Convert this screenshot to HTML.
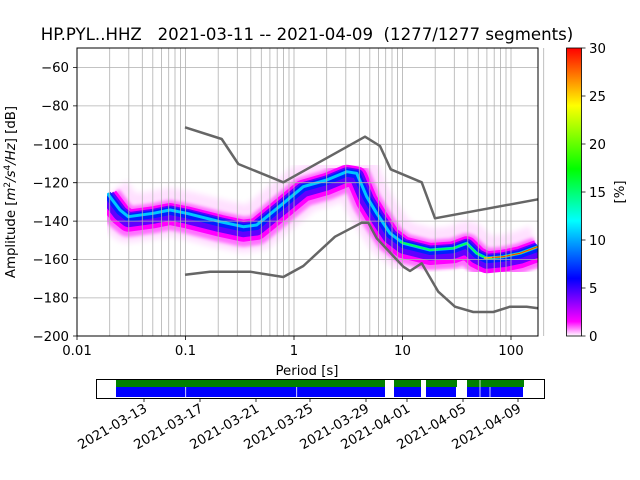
<!DOCTYPE html>
<html><head><meta charset="utf-8"><style>
html,body{margin:0;padding:0;background:#fff;}
svg{display:block;font-family:"DejaVu Sans","Liberation Sans",sans-serif;}
</style></head><body>
<svg width="640" height="480" viewBox="0 0 640 480" xmlns="http://www.w3.org/2000/svg">
<defs>
<linearGradient id="cb" x1="0" y1="1" x2="0" y2="0">
<stop offset="0" stop-color="#ffffff"/>
<stop offset="0.05" stop-color="#ff00ff"/>
<stop offset="0.2" stop-color="#0000ff"/>
<stop offset="0.4" stop-color="#00ffff"/>
<stop offset="0.58" stop-color="#00ff00"/>
<stop offset="0.8" stop-color="#ffff00"/>
<stop offset="1" stop-color="#ff0000"/>
</linearGradient>
<clipPath id="pc"><rect x="107" y="48" width="431" height="288"/></clipPath>
<filter id="bl"><feGaussianBlur stdDeviation="1.5"/></filter>
<filter id="bl2"><feGaussianBlur stdDeviation="3"/></filter>
<polyline id="m" fill="none" points="107.3,193.3 120,210 128.3,216.7 153.3,213.3 170,210 186.7,213.3 220,221.7 243.3,226.7 256.7,225 283.3,203.3 303.3,186.7 326.7,180 346.7,171.7 356.7,173.3 366.7,196.7 376.7,213.3 390,233.3 403.3,243.3 430,250 453.3,248.3 466.7,243.3 476.7,253.3 486.7,258.3 503.3,256.7 520,253.3 538,246.7"/>
</defs>
<text x="307" y="40" font-size="16.6" text-anchor="middle" style="white-space:pre" xml:space="preserve">HP.PYL..HHZ   2021-03-11 -- 2021-04-09  (1277/1277 segments)</text>
<g clip-path="url(#pc)" fill="none" stroke-linejoin="round">
<use href="#m" transform="translate(0,2)" stroke="#ffe0ff" stroke-width="48" filter="url(#bl2)"/>
<use href="#m" transform="translate(0,5)" stroke="#ff70ff" stroke-width="30" filter="url(#bl)"/>
<use href="#m" transform="translate(0,4)" stroke="#ff00ff" stroke-width="22"/>
<use href="#m" transform="translate(0,3)" stroke="#6000ff" stroke-width="15"/>
<use href="#m" transform="translate(0,1)" stroke="#0020ff" stroke-width="8"/>
<use href="#m" stroke="#00c8ff" stroke-width="3"/>
<polyline points="400,242 430,250 453.3,248.3 466.7,243.3 476.7,253.3 486.7,258.3 503.3,256.7 520,253.3 538,246.7" stroke="#00ff60" stroke-width="2"/>
<polyline points="484,258 503.3,256.7 520,253.3 538,246.7" stroke="#ffb000" stroke-width="1.5"/>
<polyline points="492,257.5 503.3,256.7 520,253.3 538,246.5" stroke="#ff2000" stroke-width="0.8"/>
</g>
<g stroke="#b0b0b0" stroke-width="0.8">
<path d="M77,67.5H538M77,105.9H538M77,144.3H538M77,182.7H538M77,221.1H538M77,259.5H538M77,297.9H538"/>
<path id="dec" d="M77,48V336M109.7,48V336M128.8,48V336M142.3,48V336M152.8,48V336M161.4,48V336M168.7,48V336M175,48V336M180.5,48V336"/>
<use href="#dec" transform="translate(108.5,0)"/>
<use href="#dec" transform="translate(217,0)"/>
<use href="#dec" transform="translate(325.5,0)"/>
<path d="M511,48V336M543.7,48V336"/>
</g>
<g fill="none" stroke="#666" stroke-width="2.5" stroke-linejoin="round">
<polyline points="185,127.3 221.7,139 238.3,164 283.3,182.3 365,136.7 380,146 390.7,169.3 421.7,182.3 435,218.3 538,199.3"/>
<polyline points="185,274.7 210,271.7 250,271.7 283.3,277 303.3,266 335,236.7 361.7,222.7 368.3,222.7 376.7,238.3 403.3,266.7 410,271 421.7,263.3 438.3,291.7 455,306.7 473.3,312 493.3,312 510,306.7 526.7,306.7 538,308.3"/>
</g>
<rect x="77" y="48" width="461" height="288" fill="none" stroke="#000" stroke-width="1"/>
<g stroke="#000" stroke-width="0.8">
<path d="M73,67.5H77M73,105.9H77M73,144.3H77M73,182.7H77M73,221.1H77M73,259.5H77M73,297.9H77M73,336H77"/>
<path d="M77,336V340M185.5,336V340M294,336V340M402.5,336V340M511,336V340"/>
</g>
<g font-size="13.3" text-anchor="end" fill="#000">
<text x="69" y="72">−60</text><text x="69" y="110.5">−80</text><text x="69" y="149">−100</text><text x="69" y="187.5">−120</text><text x="69" y="226">−140</text><text x="69" y="264">−160</text><text x="69" y="302.5">−180</text><text x="69" y="341">−200</text>
</g>
<g font-size="13.3" text-anchor="middle">
<text x="77" y="355">0.01</text><text x="185.5" y="355">0.1</text><text x="294" y="355">1</text><text x="402.5" y="355">10</text><text x="511" y="355">100</text>
<text x="307" y="375">Period [s]</text>
</g>
<text transform="translate(15,192) rotate(-90)" font-size="13.3" text-anchor="middle">Amplitude [<tspan font-style="italic">m</tspan><tspan font-size="9" dy="-5">2</tspan><tspan dy="5" font-style="italic">/s</tspan><tspan font-size="9" dy="-5">4</tspan><tspan dy="5" font-style="italic">/Hz</tspan>] [dB]</text>
<rect x="566.5" y="48" width="15" height="288" fill="url(#cb)" stroke="#000" stroke-width="0.8"/>
<g stroke="#000" stroke-width="0.8"><path d="M581.5,48h4M581.5,96h4M581.5,144h4M581.5,192h4M581.5,240h4M581.5,288h4M581.5,336h4"/></g>
<g font-size="13.3"><text x="589" y="53">30</text><text x="589" y="101">25</text><text x="589" y="149">20</text><text x="589" y="197">15</text><text x="589" y="245">10</text><text x="589" y="293">5</text><text x="589" y="341">0</text></g>
<text transform="translate(624,192) rotate(-90)" font-size="13.3" text-anchor="middle">[%]</text>
<g>
<rect x="116" y="380" width="269" height="7" fill="#008000"/>
<rect x="394" y="380" width="27" height="7" fill="#008000"/>
<rect x="426" y="380" width="31" height="7" fill="#008000"/>
<rect x="467" y="380" width="57" height="7" fill="#008000"/>
<rect x="116" y="387" width="269" height="10" fill="#0000ff"/>
<rect x="394" y="387" width="27" height="10" fill="#0000ff"/>
<rect x="426" y="387" width="30" height="10" fill="#0000ff"/>
<rect x="467" y="387" width="56" height="10" fill="#0000ff"/>
<g stroke="#fff" stroke-width="0.8"><path d="M185.7,387V397M296.7,387V397M480,380V397M490,387V397"/></g>
<rect x="96.5" y="379.5" width="448" height="19" fill="none" stroke="#000" stroke-width="1"/>
<g stroke="#000" stroke-width="0.8"><path d="M144,398.5v3.5M200,398.5v3.5M256,398.5v3.5M310,398.5v3.5M366,398.5v3.5M407,398.5v3.5M463,398.5v3.5M518,398.5v3.5"/></g>
<g font-size="13.3" text-anchor="end">
<text transform="translate(148,411) rotate(-30)">2021-03-13</text>
<text transform="translate(204,411) rotate(-30)">2021-03-17</text>
<text transform="translate(260,411) rotate(-30)">2021-03-21</text>
<text transform="translate(314,411) rotate(-30)">2021-03-25</text>
<text transform="translate(370,411) rotate(-30)">2021-03-29</text>
<text transform="translate(411,411) rotate(-30)">2021-04-01</text>
<text transform="translate(467,411) rotate(-30)">2021-04-05</text>
<text transform="translate(522,411) rotate(-30)">2021-04-09</text>
</g>
</g>
</svg>
</body></html>
